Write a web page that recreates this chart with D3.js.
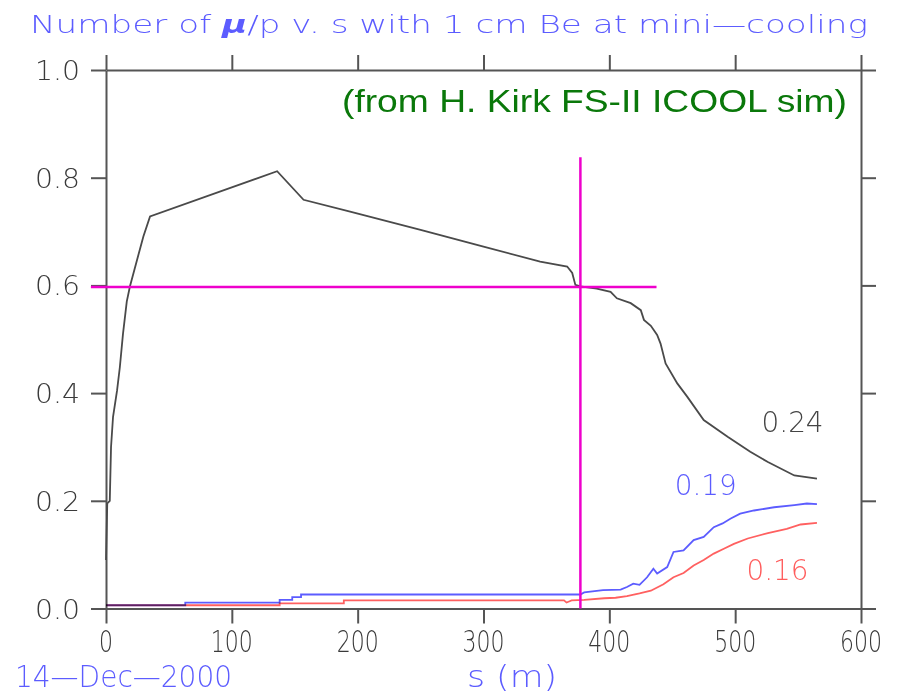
<!DOCTYPE html>
<html>
<head>
<meta charset="utf-8">
<script src="https://cdn.jsdelivr.net/npm/d3@7"></script>
<style>
  html, body { margin: 0; padding: 0; background: #fff; }
  svg { display: block; }
  .hershey { font-family: "DejaVu Sans", sans-serif; font-weight: 200; }
</style>
</head>
<body>
<div id="chart"></div>
<script>
// black curve: mu/p total
var blackS = [0, 1, 3, 4, 5.6, 8.8, 11, 13.5, 16.5, 19, 29.7, 35, 136, 157, 194, 250, 300, 345, 366.5, 370.5, 373, 377, 390, 401, 406, 417, 425, 427.5, 433, 438, 440.7, 444.7, 454, 462, 475, 494, 512, 526, 547, 565];
var blackV = [0.09, 0.195, 0.2, 0.30, 0.356, 0.405, 0.448, 0.51, 0.57, 0.598, 0.691, 0.728, 0.812, 0.759, 0.737, 0.703, 0.672, 0.644, 0.635, 0.623, 0.601, 0.598, 0.594, 0.588, 0.576, 0.567, 0.554, 0.536, 0.525, 0.508, 0.492, 0.455, 0.418, 0.393, 0.350, 0.319, 0.291, 0.272, 0.247, 0.241];
// blue curve
var blueS = [0, 63, 63, 138, 138, 148, 148, 155, 155, 377, 380, 395, 409, 414, 419, 424, 430, 435, 438, 446, 451, 459, 467, 475, 483, 490, 496.5, 504, 515, 531, 547, 557, 565];
var blueV = [0.006, 0.006, 0.011, 0.011, 0.016, 0.016, 0.021, 0.021, 0.026, 0.026, 0.030, 0.034, 0.035, 0.040, 0.046, 0.044, 0.058, 0.074, 0.065, 0.077, 0.105, 0.108, 0.127, 0.133, 0.151, 0.158, 0.167, 0.176, 0.182, 0.188, 0.192, 0.195, 0.194];
// red curve
var redS = [0, 138, 138, 189, 189, 364, 366, 368, 370, 380, 396, 405, 414, 424, 433, 443, 451, 459, 467, 475, 483, 491, 499, 510, 526, 541, 552, 565];
var redV = [0.006, 0.006, 0.0095, 0.0095, 0.015, 0.015, 0.011, 0.013, 0.015, 0.016, 0.019, 0.020, 0.023, 0.028, 0.033, 0.045, 0.058, 0.066, 0.08, 0.09, 0.102, 0.111, 0.12, 0.13, 0.140, 0.148, 0.156, 0.159];

var xTicks = [0, 100, 200, 300, 400, 500, 600];
var yTicks = [0, 0.2, 0.4, 0.6, 0.8, 1.0];
var endLabels = ["0.24", "0.19", "0.16"];
var endLabelS = [521, 452, 509];
var endLabelV = [0.328, 0.211, 0.053];
var cutS = 377, cutV = 0.597;

var W = 901, H = 693;
var x = d3.scaleLinear().domain([0, 600]).range([106, 861]);
var y = d3.scaleLinear().domain([0, 1]).range([608.5, 70]);

var svg = d3.select("#chart").append("svg")
    .attr("width", W).attr("height", H);

// frame axes, ticks pointing outward
function styleAxis(g) {
    g.selectAll("path, line").attr("stroke", "#555").attr("stroke-width", 2);
    g.selectAll("text").remove();
}
svg.append("g").attr("transform", "translate(0," + y(1) + ")")
    .call(d3.axisTop(x).tickValues(xTicks).tickSize(15).tickSizeOuter(0)).call(styleAxis);
svg.append("g").attr("transform", "translate(" + x(600) + ",0)")
    .call(d3.axisRight(y).tickValues(yTicks).tickSize(15).tickSizeOuter(0)).call(styleAxis);
svg.append("g").attr("transform", "translate(0," + y(0) + ")")
    .call(d3.axisBottom(x).tickValues(xTicks).tickSize(15).tickSizeOuter(0)).call(styleAxis);
svg.append("g").attr("transform", "translate(" + x(0) + ",0)")
    .call(d3.axisLeft(y).tickValues(yTicks).tickSize(15).tickSizeOuter(0)).call(styleAxis);

// tick labels
svg.selectAll(".ylab").data(yTicks).enter().append("text")
    .attr("class", "hershey")
    .attr("x", 80).attr("y", function(d){ return y(d) + 10; })
    .attr("text-anchor", "end")
    .attr("font-size", 27).attr("fill", "#3a3a3a")
    .attr("textLength", 45).attr("lengthAdjust", "spacingAndGlyphs")
    .text(function(d){ return d.toFixed(1); });
svg.selectAll(".xlab").data(xTicks).enter().append("text")
    .attr("class", "hershey")
    .attr("x", function(d){ return x(d) - (d === 0 ? 7 : 21); })
    .attr("y", 652)
    .attr("font-size", 31).attr("fill", "#3a3a3a")
    .attr("textLength", function(d){ return d === 0 ? 14 : 42; })
    .attr("lengthAdjust", "spacingAndGlyphs")
    .text(function(d){ return d; });

// curves
function makeLine(sArr, vArr) {
    return d3.line()(sArr.map(function(s, i){ return [x(s), y(vArr[i])]; }));
}
svg.append("path").attr("d", makeLine(blueS, blueV))
    .attr("fill", "none").attr("stroke", "#5c5cff").attr("stroke-width", 1.8)
    .style("mix-blend-mode", "multiply");
svg.append("path").attr("d", makeLine(redS, redV))
    .attr("fill", "none").attr("stroke", "#ff6060").attr("stroke-width", 1.8)
    .style("mix-blend-mode", "multiply");
svg.append("path").attr("d", makeLine(blackS, blackV))
    .attr("fill", "none").attr("stroke", "#4a4a4a").attr("stroke-width", 1.8);

// magenta cut lines
svg.append("line")
    .attr("x1", x(cutS)).attr("x2", x(cutS))
    .attr("y1", y(0)).attr("y2", y(0.838))
    .attr("stroke", "#ee00cc").attr("stroke-width", 2.5);
svg.append("line")
    .attr("x1", x(-12)).attr("x2", x(437.5))
    .attr("y1", y(cutV)).attr("y2", y(cutV))
    .attr("stroke", "#ee00cc").attr("stroke-width", 2.5);

// end labels
var labelColors = ["#444", "#5c5cff", "#ff5c5c"];
svg.selectAll(".endlab").data(endLabels).enter().append("text")
    .attr("class", "hershey")
    .attr("x", function(d, i){ return x(endLabelS[i]); })
    .attr("y", function(d, i){ return y(endLabelV[i]); })
    .attr("font-size", 29).attr("fill", function(d, i){ return labelColors[i]; })
    .attr("textLength", 62).attr("lengthAdjust", "spacingAndGlyphs")
    .text(function(d){ return d; });

// title
var title = svg.append("text").attr("class", "hershey")
    .attr("x", 30).attr("y", 33)
    .attr("font-size", 25).attr("fill", "#5c5cff")
    .attr("textLength", 838).attr("lengthAdjust", "spacingAndGlyphs");
title.append("tspan").text("Number of ");
title.append("tspan").attr("font-weight", "bold").attr("font-style", "italic").text("\u03bc");
title.append("tspan").text("/p v. s with 1 cm Be at mini\u2014cooling");

// green note
svg.append("text")
    .attr("x", 342).attr("y", 112)
    .attr("font-family", "Liberation Sans, Arial, sans-serif")
    .attr("font-weight", "normal")
    .attr("font-size", 32).attr("fill", "#0a780a")
    .attr("textLength", 505).attr("lengthAdjust", "spacingAndGlyphs")
    .text("(from H. Kirk FS-II ICOOL sim)");

// date and axis title
svg.append("text").attr("class", "hershey")
    .attr("x", 15).attr("y", 687)
    .attr("font-size", 30).attr("fill", "#5c5cff")
    .attr("textLength", 217).attr("lengthAdjust", "spacingAndGlyphs")
    .text("14\u2014Dec\u20142000");
svg.append("text").attr("class", "hershey")
    .attr("x", 467).attr("y", 687)
    .attr("font-size", 30).attr("fill", "#5c5cff")
    .attr("textLength", 90).attr("lengthAdjust", "spacingAndGlyphs")
    .text("s (m)");
</script>
</body>
</html>
